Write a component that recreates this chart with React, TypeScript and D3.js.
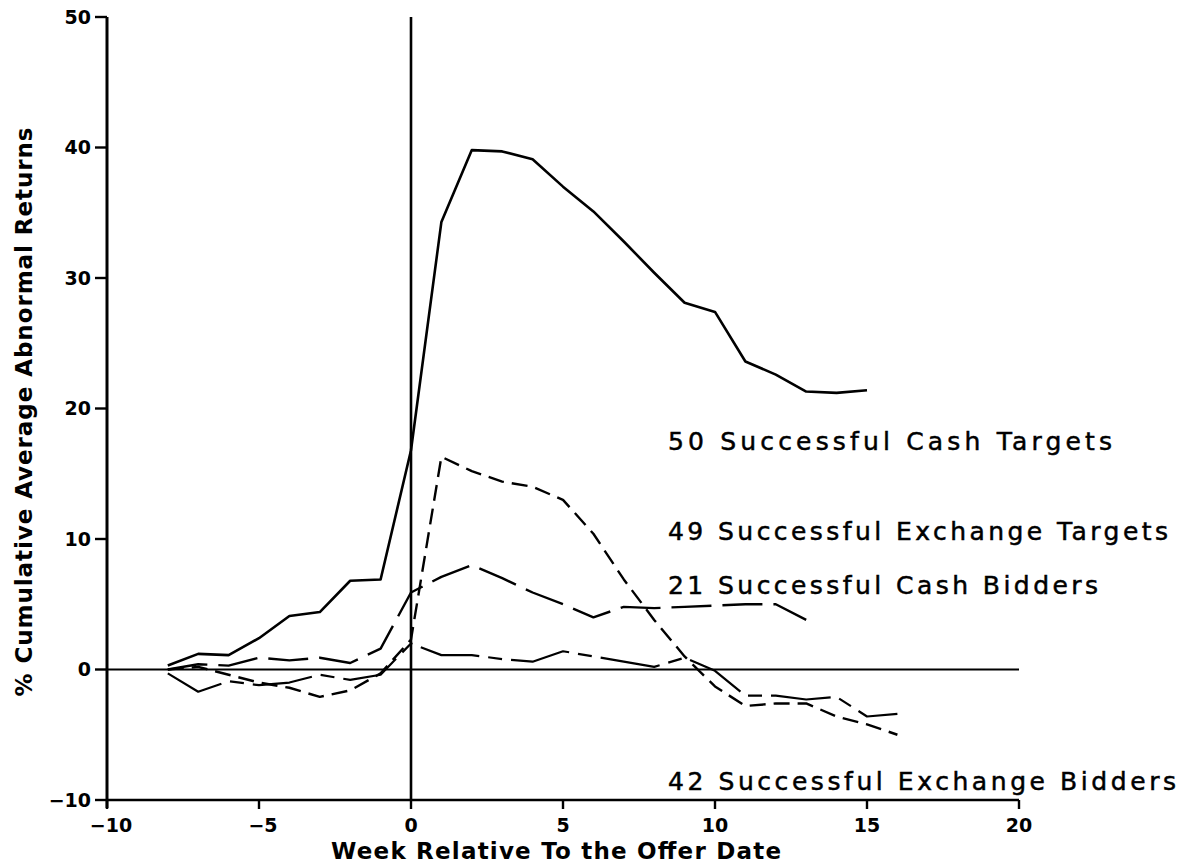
import React from 'react';
import * as d3 from 'd3';

// ---- Data ----
const weeksCashTargets = [-8, -7, -6, -5, -4, -3, -2, -1, 0, 1, 2, 3, 4, 5, 6, 7, 8, 9, 10, 11, 12, 13, 14, 15];
const cashTargets = [0.3, 1.2, 1.1, 2.4, 4.1, 4.4, 6.8, 6.9, 16.8, 34.3, 39.8, 39.7, 39.1, 37.0, 35.1, 32.8, 30.4, 28.1, 27.4, 23.6, 22.6, 21.3, 21.2, 21.4];

const weeksExchangeTargets = [-8, -7, -6, -5, -4, -3, -2, -1, 0, 1, 2, 3, 4, 5, 6, 7, 8, 9, 10, 11, 12, 13, 14, 15, 16];
const exchangeTargets = [0.0, 0.2, -0.4, -1.0, -1.4, -2.1, -1.6, -0.3, 2.3, 16.3, 15.2, 14.4, 14.0, 13.0, 10.4, 6.9, 3.8, 1.0, -1.3, -2.8, -2.6, -2.6, -3.6, -4.2, -5.0];

const weeksCashBidders = [-8, -7, -6, -5, -4, -3, -2, -1, 0, 1, 2, 3, 4, 5, 6, 7, 8, 9, 10, 11, 12, 13];
const cashBidders = [0.0, 0.4, 0.3, 0.9, 0.7, 0.9, 0.5, 1.6, 5.9, 7.1, 8.0, 7.0, 5.9, 5.0, 4.0, 4.8, 4.7, 4.8, 4.9, 5.0, 5.0, 3.8];

const weeksExchangeBidders = [-8, -7, -6, -5, -4, -3, -2, -1, 0, 1, 2, 3, 4, 5, 6, 7, 8, 9, 10, 11, 12, 13, 14, 15, 16];
const exchangeBidders = [-0.3, -1.7, -0.9, -1.2, -1.0, -0.4, -0.8, -0.4, 2.0, 1.1, 1.1, 0.8, 0.6, 1.4, 1.0, 0.6, 0.2, 0.9, -0.1, -2.0, -2.0, -2.3, -2.1, -3.6, -3.4];

const xTicks = [-10, -5, 0, 5, 10, 15, 20];
const xTickLabels = ['\u221210', '\u22125', '0', '5', '10', '15', '20'];
const yTicks = [-10, 0, 10, 20, 30, 40, 50];
const yTickLabels = ['\u221210', '0', '10', '20', '30', '40', '50'];

const seriesLabels = [
  '50 Successful Cash Targets',
  '49 Successful Exchange Targets',
  '21 Successful Cash Bidders',
  '42 Successful Exchange Bidders',
];
const labelValues = [16.8, 9.9, 5.75, -9.25];
const labelWidths = [444, 500, 430, 508];

const xTitle = 'Week Relative To the Offer Date';
const yTitle = '% Cumulative Average Abnormal Returns';

export default function App() {
  const W = 1186;
  const H = 863;
  const x = d3.scaleLinear().domain([-10, 20]).range([107, 1019]);
  const y = d3.scaleLinear().domain([-10, 50]).range([800, 17]);

  const mk = (ws: number[], vs: number[]) =>
    d3
      .line<number>()
      .x((_, i) => x(ws[i]))
      .y((v) => y(v))(vs) || '';

  const series = [
    { d: mk(weeksCashTargets, cashTargets), dash: undefined as string | undefined, w: 2.6 },
    { d: mk(weeksExchangeTargets, exchangeTargets), dash: '16 8', w: 2.4 },
    { d: mk(weeksCashBidders, cashBidders), dash: '40 11', w: 2.4 },
    { d: mk(weeksExchangeBidders, exchangeBidders), dash: '60 9 14 9', w: 2.2 },
  ];

  const font = "'DejaVu Sans', 'Liberation Sans', sans-serif";

  return (
    <div style={{ position: 'absolute', left: 0, top: 0 }}>
      <svg width={W} height={H} style={{ display: 'block', background: '#fff' }}>
        {/* zero reference lines */}
        <line x1={x(-10)} x2={x(20)} y1={y(0)} y2={y(0)} stroke="#000" strokeWidth={1.8} />
        <line x1={x(0)} x2={x(0)} y1={y(50)} y2={y(-10)} stroke="#000" strokeWidth={2.6} />

        {/* axes */}
        <line x1={x(-10)} x2={x(-10)} y1={y(50)} y2={y(-10) + 8} stroke="#000" strokeWidth={3} />
        <line x1={x(-10)} x2={x(20)} y1={y(-10)} y2={y(-10)} stroke="#000" strokeWidth={2.6} />
        {yTicks.map((t, i) => (
          <g key={'yt' + t}>
            <line x1={x(-10) - 12} x2={x(-10)} y1={y(t)} y2={y(t)} stroke="#000" strokeWidth={2.4} />
            <text
              x={x(-10) - 16}
              y={y(t)}
              dy="0.36em"
              textAnchor="end"
              fontFamily={font}
              fontWeight="bold"
              fontSize={19}
            >
              {yTickLabels[i]}
            </text>
          </g>
        ))}
        {xTicks.map((t, i) => (
          <g key={'xt' + t}>
            <line x1={x(t)} x2={x(t)} y1={y(-10)} y2={y(-10) + 9} stroke="#000" strokeWidth={2.4} />
            <text
              x={x(t) + (t < 0 ? 4 : 0)}
              y={832}
              textAnchor="middle"
              fontFamily={font}
              fontWeight="bold"
              fontSize={19}
            >
              {xTickLabels[i]}
            </text>
          </g>
        ))}

        {/* series */}
        {series.map((s, i) => (
          <path
            key={'s' + i}
            d={s.d}
            fill="none"
            stroke="#000"
            strokeWidth={s.w}
            strokeDasharray={s.dash}
            strokeLinejoin="round"
          />
        ))}

        {/* series labels */}
        {seriesLabels.map((lab, i) => (
          <text
            key={'lab' + i}
            x={668}
            y={y(labelValues[i])}
            fontFamily={font}
            fontSize={25}
            stroke="#000"
            strokeWidth={0.5}
            textLength={labelWidths[i]}
            lengthAdjust="spacing"
          >
            {lab}
          </text>
        ))}

        {/* axis titles */}
        <text
          x={556}
          y={859}
          textAnchor="middle"
          fontFamily={font}
          fontWeight="bold"
          fontSize={23}
          textLength={450}
          lengthAdjust="spacing"
        >
          {xTitle}
        </text>
        <text
          transform="translate(32,412) rotate(-90)"
          textAnchor="middle"
          fontFamily={font}
          fontWeight="bold"
          fontSize={23}
          textLength={569}
          lengthAdjust="spacing"
        >
          {yTitle}
        </text>
      </svg>
    </div>
  );
}
